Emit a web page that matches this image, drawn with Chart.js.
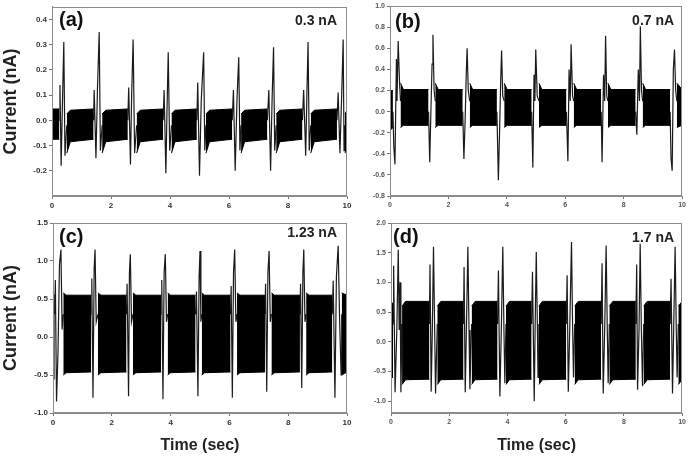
<!DOCTYPE html>
<html><head><meta charset="utf-8">
<script src="https://cdn.jsdelivr.net/npm/chart.js@4.4.0/dist/chart.umd.min.js"></script>
<style>
body{margin:0;background:#fff;width:688px;height:461px;overflow:hidden;position:relative}
canvas{position:absolute}
</style>
</head><body>
<canvas id="ca" style="left:0;top:0" width="355" height="218"></canvas>
<canvas id="cb" style="left:352px;top:0" width="336" height="218"></canvas>
<canvas id="cc" style="left:0;top:215px" width="355" height="246"></canvas>
<canvas id="cd" style="left:352px;top:215px" width="336" height="246"></canvas>
<script>
// ---------- data ----------
const timeTicks = [0, 2, 4, 6, 8, 10];
const panelTags = ['(a)', '(b)', '(c)', '(d)'];
const currentLabels = ['0.3 nA', '0.7 nA', '1.23 nA', '1.7 nA'];
const yTitle = 'Current (nA)';
const xTitle = 'Time (sec)';

// noise band envelopes (null = gap at a spike event)
const bandA_x  = [0,0.25,0.38, 0.50,0.62,1.41,1.55, 1.70,1.82,2.57,2.72, 2.87,2.99,3.77,3.91, 4.05,4.17,4.91,5.06, 5.22,5.34,6.11,6.26, 6.41,6.53,7.30,7.45, 7.60,7.72,8.49,8.63, 8.77,8.89,9.66,9.80, 9.93,10];
const bandA_hi = [0.045,0.045,null, 0.025,0.04,0.045,null, 0.025,0.04,0.045,null, 0.025,0.04,0.045,null, 0.025,0.04,0.045,null, 0.025,0.04,0.045,null, 0.025,0.04,0.045,null, 0.025,0.04,0.045,null, 0.025,0.04,0.045,null, 0.025,0.04];
const bandA_lo = [-0.075,-0.075,null, -0.13,-0.085,-0.075,null, -0.13,-0.085,-0.075,null, -0.13,-0.085,-0.075,null, -0.13,-0.085,-0.075,null, -0.13,-0.085,-0.075,null, -0.13,-0.085,-0.075,null, -0.13,-0.085,-0.075,null, -0.13,-0.085,-0.075,null, -0.13,-0.11];

const bandB_x  = [0,0.10,0.2, 0.36,0.46,1.32,1.44, 1.55,1.65,2.49,2.6, 2.73,2.83,3.66,3.8, 3.91,4.01,4.85,4.97, 5.10,5.20,6.04,6.16, 6.29,6.39,7.23,7.35, 7.46,7.56,8.41,8.53, 8.65,8.75,9.59,9.7, 9.82,10];
const bandB_hi = [0.2,0.2,null, 0.27,0.21,0.21,null, 0.27,0.21,0.21,null, 0.27,0.21,0.21,null, 0.27,0.21,0.21,null, 0.27,0.21,0.21,null, 0.27,0.21,0.21,null, 0.27,0.21,0.21,null, 0.27,0.21,0.21,null, 0.27,0.21];
const bandB_lo = [-0.18,-0.15,null, -0.15,-0.13,-0.13,null, -0.15,-0.13,-0.13,null, -0.15,-0.13,-0.13,null, -0.15,-0.13,-0.13,null, -0.15,-0.13,-0.13,null, -0.15,-0.13,-0.13,null, -0.15,-0.13,-0.13,null, -0.15,-0.13,-0.13,null, -0.15,-0.13];

const bandC_x  = [0,0.06,0.2, 0.35,0.45,1.30,1.41, 1.53,1.63,2.50,2.61, 2.72,2.82,3.68,3.79, 3.90,4.00,4.85,4.95, 5.06,5.16,6.04,6.15, 6.26,6.36,7.21,7.32, 7.43,7.53,8.40,8.5, 8.61,8.71,9.50,9.66, 9.82,10];
const bandC_hi = [0.55,0.55,null, 0.58,0.55,0.55,null, 0.58,0.55,0.55,null, 0.58,0.55,0.55,null, 0.58,0.55,0.55,null, 0.58,0.55,0.55,null, 0.58,0.55,0.55,null, 0.58,0.55,0.55,null, 0.58,0.55,0.55,null, 0.58,0.55];
const bandC_lo = [-0.55,-0.55,null, -0.5,-0.47,-0.46,null, -0.5,-0.47,-0.46,null, -0.5,-0.47,-0.46,null, -0.5,-0.47,-0.46,null, -0.5,-0.47,-0.46,null, -0.5,-0.47,-0.46,null, -0.5,-0.47,-0.46,null, -0.5,-0.47,-0.46,null, -0.5,-0.46];

const bandD_x  = [0,0.07,0.2, 0.38,0.50,1.32,1.45, 1.59,1.71,2.49,2.63, 2.77,2.89,3.66,3.8, 3.95,4.07,4.83,4.95, 5.08,5.20,6.02,6.16, 6.31,6.43,7.22,7.36, 7.50,7.62,8.41,8.55, 8.68,8.80,9.59,9.73, 9.87,10];
const bandD_hi = [0.65,0.65,null, 0.6,0.68,0.68,null, 0.6,0.68,0.68,null, 0.6,0.68,0.68,null, 0.6,0.68,0.68,null, 0.6,0.68,0.68,null, 0.6,0.68,0.68,null, 0.6,0.68,0.68,null, 0.6,0.68,0.68,null, 0.6,0.68];
const bandD_lo = [-0.6,-0.6,null, -0.72,-0.64,-0.63,null, -0.72,-0.64,-0.63,null, -0.72,-0.64,-0.63,null, -0.72,-0.64,-0.63,null, -0.72,-0.64,-0.63,null, -0.72,-0.64,-0.63,null, -0.72,-0.64,-0.63,null, -0.72,-0.64,-0.63,null, -0.72,-0.64];

// spike traces (null = break between events)
const spikeA_x = [0.25,0.27,0.31,0.36,0.40,0.44,0.50, 0.9,
 1.41,1.43,1.49,1.54,1.60,1.64,1.70, 2.1,
 2.57,2.60,2.66,2.70,2.75,2.80,2.87, 3.3,
 3.77,3.80,3.86,3.90,3.94,3.99,4.05, 4.5,
 4.91,4.94,5.00,5.06,5.14,5.18,5.22, 5.6,
 6.11,6.15,6.21,6.27,6.33,6.37,6.41, 6.9,
 7.30,7.35,7.41,7.46,7.51,7.55,7.60, 8.0,
 8.49,8.53,8.60,8.64,8.68,8.72,8.77, 9.2,
 9.66,9.70,9.76,9.82,9.87,9.90,9.93];
const spikeA_y = [0,0.14,-0.18,0.10,0.31,-0.14,-0.02, null,
 0,0.12,-0.15,0.12,0.35,-0.12,-0.02, null,
 0,0.13,-0.175,0.10,0.32,-0.13,-0.02, null,
 0,0.12,-0.21,0.05,0.27,-0.12,-0.02, null,
 0,0.15,-0.22,0.08,0.27,-0.12,-0.02, null,
 0,0.12,-0.20,0.08,0.25,-0.12,-0.02, null,
 0,0.12,-0.20,0.08,0.29,-0.12,-0.02, null,
 0,0.12,-0.14,0.10,0.31,-0.12,-0.02, null,
 0,0.11,-0.13,0.10,0.32,-0.12,-0.02];

const spikeB_x = [0.10,0.13,0.17,0.22,0.24,0.28,0.33,0.36, 0.8,
 1.32,1.36,1.40,1.44,1.47,1.51,1.55, 2.0,
 2.49,2.53,2.57,2.61,2.64,2.68,2.73, 3.2,
 3.66,3.71,3.75,3.79,3.82,3.86,3.91, 4.4,
 4.85,4.89,4.93,4.96,4.99,5.04,5.10, 5.6,
 6.04,6.09,6.13,6.17,6.20,6.25,6.29, 6.8,
 7.23,7.26,7.31,7.35,7.38,7.42,7.46, 7.9,
 8.41,8.45,8.50,8.54,8.57,8.61,8.65, 9.1,
 9.59,9.62,9.66,9.70,9.74,9.78,9.82];
const spikeB_y = [0,-0.33,-0.5,0.5,0.1,0.67,0.25,0.1, null,
 0,-0.48,0.0,0.45,0.73,0.2,0.1, null,
 0,-0.45,-0.1,0.35,0.6,0.2,0.1, null,
 0,-0.65,-0.2,0.3,0.58,0.15,0.1, null,
 0,-0.53,0.35,0.1,0.59,0.15,0.1, null,
 0,-0.47,0.4,0.1,0.64,0.15,0.1, null,
 0,-0.48,0.35,0.1,0.72,0.15,0.1, null,
 0,-0.22,0.4,0.1,0.81,0.2,0.1, null,
 0,-0.44,-0.56,0.4,0.59,0.2,0.1];

const spikeC_x = [0.06,0.08,0.12,0.17,0.22,0.27,0.31,0.35, 0.8,
 1.30,1.32,1.36,1.40,1.43,1.47,1.53, 2.0,
 2.50,2.52,2.57,2.60,2.63,2.67,2.72, 3.2,
 3.68,3.70,3.74,3.78,3.82,3.86,3.90, 4.4,
 4.85,4.88,4.93,4.97,5.00,5.03,5.06, 5.5,
 6.04,6.06,6.10,6.14,6.18,6.22,6.26, 6.7,
 7.21,7.23,7.27,7.31,7.35,7.39,7.43, 7.9,
 8.40,8.42,8.46,8.50,8.53,8.57,8.61, 9.0,
 9.50,9.53,9.59,9.64,9.70,9.75,9.80,9.82];
const spikeC_y = [0.3,0.75,-0.85,-0.2,0.95,1.15,0.1,0.3, null,
 0.3,0.77,-0.8,0.9,1.15,0.2,0.3, null,
 0.3,0.7,-0.78,0.85,1.09,0.2,0.3, null,
 0.3,0.75,-0.82,0.85,1.09,0.2,0.3, null,
 0.3,0.6,-0.78,0.8,1.13,0.2,0.3, null,
 0.3,0.67,-0.8,0.85,1.15,0.2,0.3, null,
 0.3,0.7,-0.72,0.85,1.13,0.2,0.3, null,
 0.3,0.7,-0.67,0.85,1.15,0.2,0.3, null,
 0.3,0.74,-0.8,0.8,1.2,0.2,-0.5,0.3];

const spikeD_x = [0.07,0.09,0.14,0.20,0.25,0.28,0.31,0.34,0.38, 0.8,
 1.32,1.34,1.38,1.42,1.46,1.50,1.53,1.59, 2.0,
 2.49,2.51,2.55,2.59,2.64,2.68,2.71,2.77, 3.2,
 3.66,3.69,3.74,3.79,3.84,3.88,3.91,3.95, 4.4,
 4.83,4.86,4.92,4.95,4.99,5.03,5.05,5.08, 5.5,
 6.02,6.05,6.09,6.14,6.20,6.24,6.27,6.31, 6.7,
 7.22,7.25,7.29,7.34,7.39,7.43,7.46,7.50, 7.9,
 8.41,8.44,8.47,8.52,8.56,8.60,8.64,8.68, 9.1,
 9.59,9.62,9.67,9.71,9.76,9.80,9.83,9.87];
const spikeD_y = [0.3,1.28,-0.85,0.2,1.55,0.2,1.0,-0.85,0.3, null,
 0.3,1.3,-0.84,0.2,1.6,0.2,-0.87,0.3, null,
 0.3,1.26,-0.85,0.2,1.6,0.2,-0.8,0.3, null,
 0.3,1.2,-0.92,0.2,1.6,0.2,-0.7,0.3, null,
 0.3,1.18,-1.0,0.2,1.51,0.2,-0.6,0.3, null,
 0.3,1.12,-0.84,0.2,1.68,0.2,-0.6,0.3, null,
 0.3,1.32,-0.87,0.2,1.62,0.2,-0.7,0.3, null,
 0.3,1.3,-0.81,0.2,1.65,0.2,-0.75,0.3, null,
 0.3,1.06,-0.87,0.2,1.6,0.2,-0.6,0.3];

// y axis ranges / tick steps per panel
const yMin  = [-0.3, -0.8, -1.0, -1.2];
const yMax  = [0.45, 1.0, 1.5, 2.0];
const yStep = [0.1, 0.2, 0.5, 0.5];

// ---------- drawing ----------
const FONT = "'Liberation Sans', Arial, sans-serif";
function pts(xs, ys) { return xs.map((x, i) => ({ x: x, y: ys[i] })); }

// split a band (null-separated) into one upper/lower dataset pair per segment
function bandDatasets(xs, hi, lo) {
  const out = [];
  let seg = null;
  const flush = () => {
    if (seg && seg.x.length > 1) {
      out.push({ data: pts(seg.x, seg.hi), borderColor: '#000', backgroundColor: '#000', borderWidth: 1, fill: '+1', pointRadius: 0 });
      out.push({ data: pts(seg.x, seg.lo), borderColor: '#000', backgroundColor: '#000', borderWidth: 1, fill: false, pointRadius: 0 });
    }
    seg = null;
  };
  xs.forEach((x, i) => {
    if (hi[i] === null || lo[i] === null) { flush(); return; }
    if (!seg) seg = { x: [], hi: [], lo: [] };
    seg.x.push(x); seg.hi.push(hi[i]); seg.lo.push(lo[i]);
  });
  flush();
  return out;
}

const framePlugin = {
  id: 'frame',
  afterDatasetsDraw(chart) {
    const a = chart.chartArea, c = chart.ctx;
    c.save();
    c.strokeStyle = '#8c8c8c'; c.lineWidth = 1;
    c.strokeRect(Math.round(a.left) + 0.5, Math.round(a.top) + 0.5,
                 Math.round(a.right - a.left) - 1, Math.round(a.bottom - a.top) - 1);
    c.restore();
  }
};
const labelPlugin = {
  id: 'panelLabels',
  afterDraw(chart, args, o) {
    const a = chart.chartArea, c = chart.ctx;
    c.save();
    c.fillStyle = '#111';
    c.textBaseline = 'middle';
    c.font = 'bold 20px ' + FONT;
    c.textAlign = 'left';
    c.fillText(o.tag, a.left + o.tagDx, a.top + o.tagDy);
    c.font = 'bold 14px ' + FONT;
    c.fillStyle = '#222';
    c.textAlign = 'right';
    c.fillText(o.cur, a.right - o.curDx, a.top + o.curDy);
    c.restore();
  }
};

function makePanel(id, idx, bx, bhi, blo, sx, sy, L) {
  const ds = bandDatasets(bx, bhi, blo);
  ds.push({ data: pts(sx, sy), borderColor: '#1a1a1a', borderWidth: 1.2, fill: false, pointRadius: 0 });
  new Chart(document.getElementById(id), {
    type: 'line',
    data: { datasets: ds },
    options: {
      responsive: false, animation: false, devicePixelRatio: 1,
      layout: { padding: L.pad },
      elements: { line: { tension: 0 } },
      plugins: {
        legend: { display: false }, tooltip: { enabled: false },
        panelLabels: { tag: panelTags[idx], cur: currentLabels[idx], tagDx: L.tagDx, tagDy: L.tagDy, curDx: L.curDx, curDy: L.curDy }
      },
      scales: {
        x: {
          type: 'linear', min: 0, max: 10,
          afterBuildTicks: s => { s.ticks = timeTicks.map(v => ({ value: v })); },
          afterFit: s => { s.height = L.xh; },
          grid: { drawOnChartArea: false, tickLength: 3, color: '#777' },
          border: { color: '#8c8c8c' },
          ticks: { font: { size: L.tf, weight: 'bold', family: FONT }, color: L.tc, padding: 2, maxRotation: 0, callback: v => String(v) },
          title: { display: L.xt, text: xTitle, font: { size: 16, weight: 'bold', family: FONT }, color: '#222', padding: { top: 0, bottom: 6 } }
        },
        y: {
          type: 'linear', min: yMin[idx], max: yMax[idx],
          afterFit: s => { s.width = L.yw; },
          grid: { drawOnChartArea: false, tickLength: 3, color: '#777' },
          border: { color: '#8c8c8c' },
          ticks: { stepSize: yStep[idx], includeBounds: false, font: { size: L.tf, weight: 'bold', family: FONT }, color: L.tc, padding: 2, callback: v => (Math.abs(v) < 1e-9 ? 0 : v).toFixed(1) },
          title: { display: L.yt, text: yTitle, font: { size: 18, weight: 'bold', family: FONT }, color: '#222', padding: { top: 0, bottom: 0 } }
        }
      }
    },
    plugins: [framePlugin, labelPlugin]
  });
}

makePanel('ca', 0, bandA_x, bandA_hi, bandA_lo, spikeA_x, spikeA_y,
  { pad: { top: 4, right: 8, left: 0, bottom: 0 }, yw: 52, xh: 22, tf: 8, tc: '#333', xt: false, yt: true, tagDx: 7, tagDy: 14, curDx: 10, curDy: 14 });
makePanel('cb', 1, bandB_x, bandB_hi, bandB_lo, spikeB_x, spikeB_y,
  { pad: { top: 3, right: 5, left: 0, bottom: 0 }, yw: 38, xh: 22, tf: 7, tc: '#555', xt: false, yt: false, tagDx: 5, tagDy: 16, curDx: 8, curDy: 15 });
makePanel('cc', 2, bandC_x, bandC_hi, bandC_lo, spikeC_x, spikeC_y,
  { pad: { top: 8, right: 8, left: 0, bottom: 0 }, yw: 53, xh: 48, tf: 8, tc: '#333', xt: true, yt: true, tagDx: 6, tagDy: 14, curDx: 10, curDy: 10 });
makePanel('cd', 3, bandD_x, bandD_hi, bandD_lo, spikeD_x, spikeD_y,
  { pad: { top: 8, right: 5, left: 0, bottom: 0 }, yw: 39, xh: 48, tf: 7, tc: '#555', xt: true, yt: false, tagDx: 2, tagDy: 14, curDx: 8, curDy: 15 });
</script>
</body></html>
